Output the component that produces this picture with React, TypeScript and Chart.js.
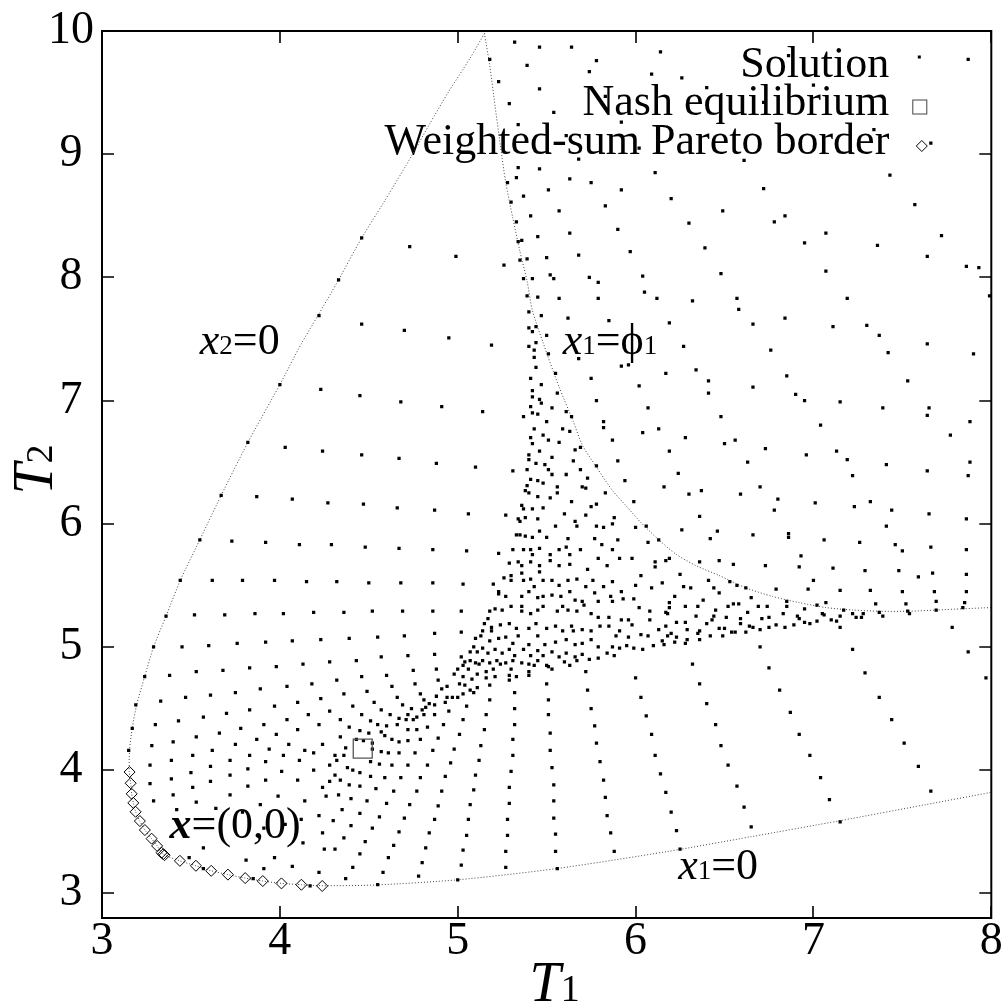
import React, { useEffect, useRef } from 'react';
import { Chart, registerables } from 'chart.js';

Chart.register(...registerables);

const SERIF = '"Liberation Serif", "Times New Roman", serif';

// ---------- axis ticks ----------
const xTickValues = [3, 4, 5, 6, 7, 8];
const yTickValues = [3, 4, 5, 6, 7, 8, 9, 10];

// ---------- legend labels ----------
const legendLabels = ['Solution', 'Nash equilibrium', 'Weighted-sum Pareto border'];

// ---------- Solution points (T1, T2) ----------
const upperPoints: number[][] = [
  [5.32,9.91],[5.46,9.87],[5.64,9.87],[5.18,9.77],[5.39,9.72],[5.78,9.76],[5.74,9.67],[6.14,9.83],[6.09,9.65],[5.23,9.59],
  [5.46,9.53],[5.83,9.47],[5.29,9.41],[5.54,9.34],[5.92,9.26],[5.34,9.24],[5.61,9.15],[6.02,9.05],[5.68,8.96],[5.34,8.89],
  [5.46,8.88],[6.11,8.85],[5.33,8.81],[5.63,8.80],[5.75,8.77],[5.28,8.77],[5.51,8.71],[5.92,8.71],[5.37,8.66],[5.30,8.61],
  [5.83,8.58],[5.57,8.54],[5.41,8.50],[5.33,8.45],[5.90,8.39],[5.63,8.36],[5.45,8.33],[5.36,8.30],[5.34,8.29],[4.46,8.32],
  [4.73,8.25],[5.97,8.21],[5.68,8.18],[4.99,8.17],[5.50,8.16],[5.39,8.15],[5.35,8.14],[5.26,8.10],[6.04,8.01],[5.74,8.00],
  [5.52,8.02],[5.54,7.99],[5.42,7.99],[5.37,7.99],[5.79,7.96],[6.05,7.88],[5.57,7.83],[5.79,7.83],[6.12,7.83],[5.45,7.84],
  [5.39,7.85],[4.46,7.62],[4.70,7.57],[4.95,7.51],[5.62,7.67],[5.85,7.65],[5.40,7.72],[5.47,7.69],[5.40,7.59],[5.44,7.60],
  [5.42,7.56],[5.50,7.53],[5.44,7.47],
];

const rightUpperPoints: number[][] = [
  [6.26,9.62],[6.40,9.54],[7.00,9.56],[7.87,9.77],[6.86,9.80],[6.72,9.42],[7.34,9.20],[6.61,8.95],[7.66,9.09],[7.43,8.83],
  [6.72,8.72],[6.20,8.64],[7.57,8.59],[6.49,8.54],[6.84,8.50],[6.78,8.45],[6.30,8.44],[7.07,8.36],[7.72,8.34],[6.39,8.24],
  [6.95,8.28],[7.36,8.26],[7.64,8.17],[7.86,8.09],[7.93,8.08],[6.48,8.03],[7.07,8.05],[7.99,7.85],[6.32,7.81],[6.57,7.83],
  [6.58,7.74],[7.19,7.83],[6.19,7.63],[6.66,7.62],[6.84,7.67],[7.11,7.60],[7.30,7.61],[7.37,7.53],[7.64,7.46],
  [6.27,7.44],[6.76,7.41],[7.42,7.39],[7.90,7.38],[6.17,7.22],[6.34,7.25],[6.41,7.16],[6.85,7.20],[7.53,7.16],[6.41,7.06],
  [6.66,7.11],[6.90,7.05],[6.95,7.00],[7.15,6.99],[7.39,6.94],[7.65,6.94],[7.64,6.88],[6.48,6.87],[7.04,6.80],[7.88,6.83],
  [7.77,6.72],[6.13,6.77],[6.28,6.70],[6.50,6.65],[6.56,6.68],[6.73,6.61],[7.13,6.59],[6.19,6.59],[6.96,6.56],[7.19,6.52],
  [6.63,6.50],[7.41,6.48],[7.88,6.50],[7.64,6.43],[7.87,6.39],[7.22,6.39],[6.24,6.41],[6.16,6.30],[6.70,6.30],[6.37,6.27],
  [6.30,6.24],[6.59,6.24],[6.80,6.20],[7.01,6.17],[7.32,6.18],[6.78,6.11],[7.23,6.14],[7.44,6.11],[7.65,6.08],[6.36,6.06],
  [7.86,6.04],[7.41,5.98],[6.26,5.95],[6.46,5.94],[6.86,5.92],[6.86,5.89],[6.42,5.88],[6.66,5.91],[7.06,5.87],[7.26,5.85],
  [7.46,5.83],[7.66,5.81],[7.50,5.78],[7.86,5.79],[6.93,5.74],
];

const phiBandPoints: number[][] = [
  [6.17,5.70],[6.19,5.72],[6.36,5.69],[6.47,5.70],[6.55,5.67],[6.73,5.66],[6.92,5.65],[7.11,5.64],[7.29,5.62],[7.48,5.62],
  [7.67,5.60],[7.86,5.59],[6.25,5.59],[7.59,5.57],[7.00,5.54],[6.41,5.54],[6.15,5.52],[6.53,5.53],[6.57,5.50],[6.62,5.48],
  [6.27,5.49],[6.31,5.48],[6.44,5.48],[6.47,5.44],[6.79,5.47],[6.97,5.47],[7.15,5.46],[7.32,5.46],[7.50,5.45],[7.68,5.45],
  [7.86,5.45],[6.22,5.41],[6.65,5.40],[6.85,5.37],[7.07,5.36],[7.35,5.35],[7.52,5.35],[7.69,5.37],[7.85,5.36],[6.19,5.36],
  [6.38,5.38],[6.19,5.32],[6.28,5.33],[6.35,5.33],[6.45,5.30],[6.52,5.33],[6.55,5.35],[6.58,5.35],[6.63,5.28],[6.69,5.33],
  [6.74,5.33],[6.85,5.33],[6.95,5.31],[7.02,5.34],[7.05,5.27],[7.17,5.30],[7.22,5.27],[7.28,5.27],[7.37,5.28],[7.39,5.25],
  [7.53,5.29],[7.54,5.27],[7.69,5.30],[7.84,5.32],[6.18,5.27],[6.34,5.25],[6.44,5.25],[6.51,5.24],[6.59,5.23],[6.71,5.23],
  [6.75,5.24],[6.83,5.27],[6.91,5.25],[6.92,5.23],[6.95,5.20],[6.98,5.19],[7.02,5.21],[7.06,5.26],[7.10,5.22],[7.13,5.21],
  [7.15,5.25],[7.15,5.16],[7.24,5.24],[7.27,5.24],[7.78,5.16],[6.23,5.20],[6.28,5.20],[6.40,5.19],[6.43,5.22],[6.59,5.19],
  [6.64,5.17],[6.66,5.16],[6.79,5.18],[6.75,5.16],[6.84,5.16],[6.89,5.18],[6.47,5.15],[6.50,5.15],[6.54,5.12],[6.56,5.12],
  [6.62,5.12],[6.70,5.14],[6.29,5.14],[6.35,5.11],[6.36,5.13],[6.20,5.11],[6.18,5.09],[6.23,5.08],[6.15,5.05],[6.22,5.04],
  [6.28,5.03],[6.29,5.06],[6.36,5.06],[6.42,5.09],[6.49,5.09],[6.16,5.02],[6.70,5.00],[7.22,4.98],[7.87,4.96],[6.32,4.86],
  [6.75,4.83],
];

const leftPoints: number[][] = [
  [4.00,7.13],[4.23,7.09],[3.82,6.66],[4.03,6.62],[4.24,6.59],[3.67,6.23],[3.87,6.22],[4.07,6.20],[4.27,6.17],[3.55,5.87],
  [3.73,5.86],[3.92,5.85],[4.11,5.83],[4.29,5.83],[3.44,5.54],[3.62,5.54],[3.79,5.54],[3.97,5.54],[4.15,5.53],[4.32,5.53],
  [3.36,5.25],[3.52,5.26],[3.69,5.26],[3.86,5.27],[4.02,5.27],[4.19,5.28],[4.36,5.28],[3.29,5.00],[3.45,5.00],[3.60,5.01],
  [3.76,5.03],[3.92,5.04],[4.07,5.05],[4.23,5.06],[4.39,5.07],[3.53,4.80],[3.68,4.81],[3.83,4.83],[3.98,4.84],[4.13,4.86],
  [4.28,4.88],[4.43,4.89],[3.38,4.77],[3.24,4.76],[4.22,7.69],[4.33,7.98],
  [4.45,7.04],[4.68,6.99],[4.91,6.95],[5.14,6.91],[4.46,6.56],[4.67,6.53],[4.88,6.49],[5.10,6.46],[5.31,6.43],[4.47,6.16],
  [4.66,6.13],[4.87,6.11],[5.06,6.08],[5.27,6.07],[4.48,5.81],[4.67,5.80],[4.86,5.79],[5.05,5.78],[5.23,5.76],[4.50,5.52],
  [4.68,5.52],[4.86,5.52],[5.03,5.51],[5.20,5.51],[4.52,5.29],[4.69,5.29],[4.86,5.29],[5.02,5.29],[5.18,5.29],[4.55,5.08],
  [4.70,5.09],[4.87,5.11],[5.02,5.12],[4.57,4.92],[4.72,4.93],[4.87,4.94],[5.02,4.92],[4.32,4.73],
];

const densePoints: number[][] = [
  [5.19,7.45],[5.40,7.44],[5.43,7.41],[5.51,7.38],[5.43,7.35],[5.68,7.34],[5.92,7.28],[5.96,7.29],[5.44,7.27],[5.55,7.22],
  [5.41,7.18],[5.75,7.18],[5.47,7.13],[6.02,7.12],[5.42,7.08],[5.56,7.06],[5.42,7.03],[5.46,7.01],[5.78,7.00],[5.41,6.95],
  [5.47,6.98],[5.53,6.94],[6.07,6.94],[5.37,6.87],[5.42,6.90],[5.45,6.89],[5.61,6.91],[5.50,6.83],[5.64,6.87],[5.82,6.83],
  [5.82,6.78],[5.43,6.77],[5.59,6.77],[6.04,6.74],[5.48,6.72],[5.63,6.75],[5.41,6.70],[5.51,6.68],[5.57,6.66],[5.87,6.68],
  [5.42,6.65],[5.46,6.59],[5.66,6.60],[5.69,6.62],[5.40,6.56],[5.40,6.52],[5.44,6.49],[5.49,6.48],[5.53,6.54],[5.65,6.51],
  [5.78,6.47],[5.90,6.51],[5.39,6.44],[5.51,6.44],[5.61,6.40],[5.69,6.44],[5.73,6.37],[5.94,6.35],[5.41,6.36],[5.45,6.35],
  [5.53,6.40],[5.48,6.33],[5.39,6.31],[5.38,6.27],[5.56,6.30],[5.70,6.30],[5.72,6.29],[5.83,6.25],[5.40,6.25],[5.45,6.22],
  [5.52,6.21],[5.56,6.25],[5.64,6.18],[5.99,6.18],[5.36,6.15],[5.37,6.12],[5.42,6.12],[5.48,6.13],[5.60,6.08],[5.75,6.14],
  [5.78,6.16],[5.72,6.07],[5.88,6.05],[5.34,6.04],[5.35,6.02],[5.38,6.05],[5.45,6.04],[5.55,5.98],[5.66,6.02],[5.67,5.98],
  [5.78,5.98],[5.82,5.97],[5.87,6.00],[6.00,5.97],[6.06,5.98],[5.33,5.91],[5.35,5.91],[5.38,5.90],[5.42,5.89],[5.46,5.94],
  [5.50,5.89],[5.62,5.88],[5.77,5.88],[5.90,5.87],[6.07,5.85],[6.13,5.87],[5.31,5.79],[5.37,5.79],[5.41,5.79],[5.46,5.80],
  [5.42,5.75],[5.52,5.75],[5.57,5.79],[5.61,5.81],[5.63,5.75],[5.69,5.79],[5.79,5.72],[5.81,5.83],[5.87,5.79],[5.91,5.72],
  [5.98,5.72],[6.11,5.69],[5.29,5.68],[5.34,5.69],[5.36,5.66],[5.41,5.69],[5.46,5.66],[5.46,5.61],[5.52,5.70],[5.57,5.66],
  [5.63,5.67],[5.73,5.63],[5.84,5.66],[6.03,5.58],[6.11,5.65],[5.26,5.56],[5.30,5.58],[5.30,5.54],[5.36,5.60],[5.37,5.54],
  [5.41,5.55],[5.43,5.49],[5.48,5.54],[5.53,5.54],[5.57,5.50],[5.62,5.54],[5.67,5.55],[5.72,5.49],[5.76,5.54],[5.82,5.49],
  [5.87,5.53],[5.92,5.45],[6.00,5.50],[6.09,5.48],[5.23,5.45],[5.23,5.43],[5.27,5.41],[5.36,5.41],[5.40,5.45],[5.45,5.40],
  [5.48,5.41],[5.53,5.42],[5.58,5.41],[5.63,5.45],[5.66,5.38],[5.70,5.37],[5.77,5.44],[5.79,5.37],[5.86,5.41],[5.87,5.37],
  [5.93,5.39],[5.99,5.39],[6.02,5.32],[6.08,5.29],[6.17,5.28],[5.21,5.31],[5.25,5.30],[5.30,5.33],[5.36,5.33],[5.36,5.29],
  [5.41,5.27],[5.45,5.30],[5.48,5.33],[5.56,5.29],[5.59,5.33],[5.62,5.30],[5.67,5.29],[5.71,5.34],[5.75,5.27],[5.79,5.24],
  [5.85,5.24],[5.92,5.22],[5.96,5.22],[5.98,5.18],[6.08,5.22],[6.13,5.14],[6.17,5.17],[5.17,5.23],[5.15,5.19],[5.19,5.16],
  [5.24,5.18],[5.29,5.19],[5.33,5.15],[5.40,5.15],[5.44,5.19],[5.50,5.15],[5.55,5.17],[5.59,5.13],[5.64,5.17],[5.65,5.13],
  [5.70,5.14],[5.75,5.13],[5.80,5.17],[5.85,5.17],[5.91,5.13],[5.89,5.09],[5.96,5.08],[6.03,5.10],[6.07,5.09],[5.14,5.13],
  [5.13,5.09],[5.19,5.13],[5.10,5.07],[5.18,5.05],[5.23,5.07],[5.27,5.08],[5.31,5.03],[5.34,5.09],[5.40,5.02],[5.45,5.09],
  [5.49,5.02],[5.55,5.04],[5.61,5.06],[5.66,5.02],[5.70,5.03],[5.75,5.06],[5.79,5.00],[5.87,5.00],[5.91,4.99],[5.95,5.01],
  [5.99,4.99],[6.04,4.98],[6.10,5.01],[5.09,5.00],[5.07,4.96],[5.11,4.96],[5.14,4.99],[5.17,4.95],[5.21,4.98],[5.25,4.95],
  [5.29,4.98],[5.32,4.93],[5.37,4.98],[5.41,4.93],[5.45,4.97],[5.48,4.93],[5.53,4.96],[5.57,4.92],[5.61,4.95],[5.66,4.92],
  [5.70,4.94],[5.74,4.90],[5.79,4.91],[5.84,4.95],[5.88,4.93],[5.04,4.88],[5.03,4.85],[5.07,4.89],[5.10,4.87],[5.14,4.89],
  [5.18,4.87],[5.22,4.89],[5.27,4.87],[5.31,4.89],[5.36,4.87],[5.40,4.86],[5.45,4.89],[5.50,4.85],[5.51,4.84],[5.53,4.82],
  [5.60,4.88],[5.63,4.85],[5.67,4.89],[4.75,4.81],[4.88,4.82],[5.00,4.82],[5.06,4.82],[5.72,4.80],
];

const lowerMidPoints: number[][] = [
  [5.12,4.86],[5.16,4.80],[5.20,4.82],[5.24,4.86],[5.30,4.82],[5.40,4.80],[5.43,4.85],[4.98,4.78],[5.03,4.76],[5.08,4.74],
  [5.11,4.78],[5.16,4.75],[5.21,4.76],[5.29,4.77],[5.29,4.73],[5.33,4.76],[5.40,4.77],[4.46,4.76],[4.60,4.77],[4.76,4.70],
  [4.89,4.73],[4.94,4.68],[5.01,4.70],[5.04,4.69],[5.18,4.69],[5.50,4.70],[6.00,4.75],[4.63,4.68],[4.91,4.66],[5.07,4.65],
  [5.09,4.63],[5.11,4.67],[5.32,4.63],[5.73,4.65],[4.36,4.62],[4.49,4.64],[4.79,4.62],[4.88,4.60],[4.94,4.59],[4.97,4.59],
  [5.00,4.59],[5.03,4.62],[4.66,4.59],[4.81,4.57],[4.84,4.54],[4.87,4.53],[4.93,4.55],[5.18,4.57],[5.51,4.57],[6.03,4.59],
  [4.53,4.55],[4.41,4.52],[4.69,4.53],[4.74,4.50],[4.80,4.49],[4.82,4.51],[4.95,4.48],[5.05,4.52],[5.32,4.50],[5.75,4.50],
  [4.28,4.48],[4.57,4.49],[4.46,4.45],[4.62,4.45],[4.72,4.45],[4.77,4.43],[4.81,4.45],[4.87,4.45],[5.16,4.45],[5.51,4.45],
  [6.06,4.44],[4.34,4.41],[4.51,4.40],[4.67,4.42],[4.71,4.41],[4.75,4.41],[4.92,4.37],[5.03,4.41],[5.32,4.37],[5.77,4.36],
  [4.39,4.35],[4.55,4.37],[4.60,4.36],[4.66,4.37],[4.72,4.33],[4.77,4.33],[4.83,4.35],[4.45,4.32],[4.50,4.30],[4.57,4.31],
  [4.59,4.28],[4.63,4.25],[4.67,4.23],[4.72,4.24],[4.79,4.25],[4.89,4.26],[5.01,4.29],[5.15,4.33],[5.31,4.25],[5.52,4.30],
  [5.78,4.22],[6.09,4.29],[4.34,4.27],[4.43,4.25],[4.47,4.24],[4.52,4.22],[4.37,4.18],[4.31,4.12],[4.36,4.12],[4.52,4.17],
  [4.57,4.15],[4.61,4.14],[4.67,4.14],[4.76,4.14],[4.86,4.16],[4.98,4.17],[5.13,4.20],[5.52,4.16],[4.28,4.04],[4.32,4.08],
  [4.38,4.02],[4.41,4.00],[4.45,3.98],[4.51,4.07],[4.56,4.05],[4.63,4.04],[4.72,4.04],[4.83,4.04],[4.96,4.06],[5.12,4.08],
  [5.31,4.12],[5.80,4.07],[6.11,4.12],[4.31,3.96],[4.34,3.92],[4.51,3.95],[4.59,3.94],[4.68,3.94],[4.79,3.94],[4.93,3.95],
  [5.10,3.96],[5.30,3.99],[5.53,4.02],[6.14,3.97],[5.82,3.92],[4.28,3.91],[4.39,3.88],[4.45,3.87],[4.54,3.85],[4.64,3.83],
  [4.77,3.83],[4.91,3.83],[5.09,3.84],[5.29,3.86],[5.54,3.88],[6.17,3.82],[4.33,3.80],[4.40,3.77],[4.49,3.75],[4.60,3.73],
  [4.73,3.72],[4.89,3.71],[5.07,3.72],[5.29,3.73],[5.54,3.75],[5.83,3.78],[4.30,3.59],[4.35,3.68],[4.45,3.65],[4.56,3.62],
  [4.70,3.61],[4.87,3.60],[5.06,3.60],[5.28,3.60],[5.54,3.61],[5.84,3.63],[4.40,3.55],[4.52,3.53],[4.67,3.50],[4.84,3.49],
  [5.05,3.47],[5.28,3.47],[5.55,3.48],[5.86,3.49],[4.36,3.45],[4.48,3.42],[4.64,3.39],[4.82,3.37],[5.03,3.35],[5.27,3.34],
  [5.55,3.34],[5.88,3.34],[4.31,3.36],[4.45,3.32],[4.61,3.29],[4.80,3.25],[5.02,3.23],[5.27,3.21],[5.56,3.20],[4.41,3.21],
  [4.58,3.17],[4.78,3.14],[5.00,3.11],[4.37,3.12],[4.55,3.07],
];

const cornerPoints: number[][] = [
  [3.19,4.53],[3.33,4.56],[3.47,4.59],[3.61,4.61],[3.75,4.63],[3.89,4.66],[4.04,4.68],[4.18,4.70],[3.17,4.34],[3.30,4.37],
  [3.43,4.40],[3.57,4.43],[3.70,4.46],[3.83,4.49],[3.97,4.52],[4.10,4.55],[4.23,4.58],[3.15,4.16],[3.28,4.20],[3.40,4.23],
  [3.53,4.27],[3.66,4.30],[3.78,4.34],[3.91,4.37],[4.04,4.41],[4.16,4.45],[3.27,4.04],[3.39,4.08],[3.51,4.12],[3.62,4.16],
  [3.75,4.21],[3.87,4.25],[3.98,4.29],[4.10,4.33],[4.22,4.37],[3.27,3.89],[3.39,3.93],[3.50,3.98],[3.61,4.03],[3.72,4.08],
  [3.83,4.12],[3.94,4.17],[4.05,4.21],[4.14,4.16],[4.24,4.21],[3.29,3.75],[3.40,3.80],[3.51,3.86],[3.61,3.91],[3.72,3.96],
  [3.82,4.01],[3.92,4.07],[4.02,4.12],[4.11,4.08],[4.19,4.14],[4.19,4.00],[3.42,3.68],[3.53,3.74],[3.64,3.69],[3.72,3.80],
  [3.82,3.87],[3.92,3.92],[4.01,3.99],[4.10,3.92],[4.24,3.86],[4.14,3.75],[4.26,3.79],[3.99,3.79],[3.89,3.72],[3.79,3.66],
  [4.22,3.63],[4.12,3.60],[4.24,3.49],[4.03,3.56],[3.91,3.53],[4.13,3.41],[4.25,3.36],[3.81,3.27],[3.91,3.20],[3.97,3.29],
  [4.07,3.22],[4.22,3.17],[3.49,3.29],[3.57,3.37],[3.57,3.20],[3.85,3.12],[4.17,3.06],
];

const lowerRightPoints: number[][] = [
  [7.29,4.79],[7.97,4.75],[6.36,4.70],[6.81,4.65],[7.37,4.59],[6.40,4.54],[6.87,4.47],[7.44,4.41],[6.45,4.37],[6.92,4.29],
  [7.51,4.22],[6.48,4.20],[6.98,4.12],[7.59,4.03],[6.52,4.04],[7.04,3.94],[7.66,3.83],[6.57,3.87],[7.09,3.76],[6.61,3.70],
  [7.15,3.58],[6.20,3.66],[6.65,3.54],[6.23,3.51],[6.25,3.36],
];

// ---------- Nash equilibrium ----------
const nashPoint: number[][] = [[4.466, 4.175]];

// ---------- Weighted-sum Pareto border ----------
const paretoPoints: number[][] = [
  [3.155,3.985],[3.161,3.894],[3.167,3.808],[3.176,3.734],[3.189,3.662],[3.213,3.587],[3.241,3.514],[3.279,3.444],
  [3.310,3.385],[3.335,3.330],[3.344,3.318],[3.352,3.310],[3.438,3.264],[3.528,3.224],[3.614,3.183],[3.708,3.152],
  [3.805,3.124],[3.904,3.100],[4.009,3.081],[4.121,3.070],[4.238,3.060],
];

// ---------- boundary curves (x2=0 / x1=0 and x1=phi1) ----------
const outerBoundary: number[][] = [
  [5.15,9.98],[5.07,9.78],[4.95,9.51],[4.84,9.24],[4.71,8.91],[4.58,8.60],[4.46,8.32],[4.33,7.98],[4.21,7.68],[4.12,7.46],
  [4.00,7.13],[3.82,6.66],[3.67,6.23],[3.55,5.87],[3.44,5.54],[3.36,5.25],[3.29,5.00],[3.24,4.76],[3.195,4.53],[3.17,4.34],
  [3.155,4.165],[3.153,3.99],[3.161,3.894],[3.167,3.808],[3.176,3.734],[3.189,3.662],[3.213,3.587],[3.241,3.514],[3.279,3.444],
  [3.31,3.385],[3.344,3.318],[3.438,3.264],[3.528,3.224],[3.614,3.183],[3.708,3.152],[3.805,3.124],[3.904,3.100],[4.009,3.081],
  [4.121,3.070],[4.238,3.062],[4.54,3.068],[5.00,3.11],[5.55,3.20],[6.18,3.34],[6.65,3.46],[7.15,3.59],[7.63,3.72],[8.0,3.82],
];

const phiBoundary: number[][] = [
  [5.15,9.98],[5.18,9.72],[5.21,9.39],[5.24,9.07],[5.27,8.77],[5.31,8.48],[5.35,8.21],[5.39,7.97],[5.42,7.73],[5.48,7.47],
  [5.57,7.11],[5.65,6.83],[5.70,6.64],[5.78,6.46],[5.87,6.27],[5.95,6.14],[6.03,6.01],[6.13,5.87],[6.23,5.75],[6.34,5.66],
  [6.47,5.58],[6.62,5.48],[6.77,5.41],[6.92,5.36],[7.07,5.32],[7.22,5.30],[7.37,5.29],[7.54,5.29],[7.69,5.30],[7.84,5.31],
  [8.0,5.32],
];

// ---------- in-plot labels: [T1, T2] anchor (left, baseline) ----------
type Seg = { t: string; style: string; size: number };
const curveLabels: { at: number[]; segs: Seg[] }[] = [
  { at: [3.55, 7.38], segs: [{ t: 'x', style: 'italic', size: 44 }, { t: '2', style: '', size: 27 }, { t: '=0', style: '', size: 44 }] },
  { at: [5.59, 7.38], segs: [{ t: 'x', style: 'italic', size: 44 }, { t: '1', style: '', size: 27 }, { t: '=\u03D5', style: '', size: 44 }, { t: '1', style: '', size: 27 }] },
  { at: [3.38, 3.45], segs: [{ t: 'x', style: 'italic bold', size: 44 }, { t: '=(0,0)', style: '', size: 44 }] },
  { at: [6.24, 3.12], segs: [{ t: 'x', style: 'italic', size: 44 }, { t: '1', style: '', size: 27 }, { t: '=0', style: '', size: 44 }] },
];

const toXY = (arr: number[][]) => arr.map(([x, y]) => ({ x, y }));

function drawSegs(ctx: CanvasRenderingContext2D, segs: Seg[], x: number, y: number, align: 'left' | 'center') {
  const widths = segs.map((s) => {
    ctx.font = `${s.style} ${s.size}px ${SERIF}`;
    return ctx.measureText(s.t).width;
  });
  const total = widths.reduce((a, b) => a + b, 0);
  let cx = align === 'left' ? x : x - total / 2;
  ctx.textAlign = 'left';
  ctx.textBaseline = 'alphabetic';
  ctx.fillStyle = '#000';
  segs.forEach((s, i) => {
    ctx.font = `${s.style} ${s.size}px ${SERIF}`;
    ctx.fillText(s.t, cx, y);
    cx += widths[i];
  });
}

const decorPlugin = {
  id: 'decor',
  beforeDatasetsDraw(chart: any) {
    const { ctx, chartArea: a, scales } = chart;
    ctx.save();
    // legend text
    ctx.font = `44px ${SERIF}`;
    ctx.fillStyle = '#000';
    ctx.textAlign = 'right';
    ctx.textBaseline = 'alphabetic';
    const baselines = [46, 84, 123];
    legendLabels.forEach((lab, i) => ctx.fillText(lab, a.right - 102, a.top + baselines[i]));
    // curve labels
    curveLabels.forEach((c) => {
      drawSegs(ctx, c.segs, scales.x.getPixelForValue(c.at[0]), scales.y.getPixelForValue(c.at[1]), 'left');
    });
    ctx.restore();
  },
  afterDraw(chart: any) {
    const { ctx, chartArea: a, scales } = chart;
    ctx.save();
    // frame
    ctx.strokeStyle = '#000';
    ctx.lineWidth = 2;
    ctx.strokeRect(a.left, a.top, a.right - a.left, a.bottom - a.top);
    // inward mirrored ticks
    ctx.lineWidth = 1.6;
    ctx.beginPath();
    xTickValues.forEach((v) => {
      const px = Math.round(scales.x.getPixelForValue(v));
      ctx.moveTo(px, a.bottom); ctx.lineTo(px, a.bottom - 12);
      ctx.moveTo(px, a.top); ctx.lineTo(px, a.top + 12);
    });
    yTickValues.forEach((v) => {
      const py = Math.round(scales.y.getPixelForValue(v));
      ctx.moveTo(a.left, py); ctx.lineTo(a.left + 12, py);
      ctx.moveTo(a.right, py); ctx.lineTo(a.right - 12, py);
    });
    ctx.stroke();
    // legend symbols
    const sx = a.right - 72;
    ctx.fillStyle = '#000';
    ctx.fillRect(sx - 1.5, a.top + 26 - 1.5, 3, 3);
    ctx.strokeStyle = '#444';
    ctx.lineWidth = 1;
    ctx.strokeRect(sx - 7 + 0.5, a.top + 76 - 7, 14, 14);
    ctx.strokeStyle = '#000';
    ctx.beginPath();
    const dy = a.top + 115;
    ctx.moveTo(sx - 3, dy); ctx.lineTo(sx - 3 + 5.5, dy - 5.5); ctx.lineTo(sx - 3 + 11, dy); ctx.lineTo(sx - 3 + 5.5, dy + 5.5); ctx.closePath();
    ctx.stroke();
    // axis titles
    drawSegs(ctx, [{ t: 'T', style: 'italic', size: 56 }, { t: '1', style: '', size: 38 }], (a.left + a.right) / 2 + 8, 1001, 'center');
    ctx.translate(52, (a.top + a.bottom) / 2 - 5);
    ctx.rotate(-Math.PI / 2);
    drawSegs(ctx, [{ t: 'T', style: 'italic', size: 56 }, { t: '2', style: '', size: 38 }], 0, 0, 'center');
    ctx.restore();
  },
};

export default function App() {
  const ref = useRef<HTMLCanvasElement>(null);
  useEffect(() => {
    const solution = [
      ...upperPoints, ...rightUpperPoints, ...phiBandPoints, ...leftPoints,
      ...densePoints, ...lowerMidPoints, ...cornerPoints, ...lowerRightPoints,
    ];
    const chart = new Chart(ref.current as HTMLCanvasElement, {
      type: 'scatter',
      data: {
        datasets: [
          {
            label: 'Nash equilibrium', data: toXY(nashPoint), pointStyle: 'rect', pointRadius: 13.4,
            borderColor: '#555', borderWidth: 1.3, backgroundColor: 'rgba(0,0,0,0)', order: 0,
          } as any,
          {
            label: 'Weighted-sum Pareto border', data: toXY(paretoPoints), pointStyle: 'rectRot', pointRadius: 5.5,
            borderColor: '#000', borderWidth: 1, backgroundColor: 'rgba(0,0,0,0)', order: 1,
          } as any,
          {
            label: 'Solution', data: toXY(solution), pointStyle: 'rect', pointRadius: 2.3,
            backgroundColor: '#000', borderWidth: 0, order: 2,
          } as any,
          {
            label: 'x2=0 / x1=0', data: toXY(outerBoundary), showLine: true, borderColor: '#444', borderWidth: 1,
            borderDash: [1, 2], pointRadius: 0, tension: 0.25, order: 3,
          } as any,
          {
            label: 'x1=phi1', data: toXY(phiBoundary), showLine: true, borderColor: '#444', borderWidth: 1,
            borderDash: [1, 2], pointRadius: 0, tension: 0.25, order: 4,
          } as any,
        ],
      },
      options: {
        responsive: false,
        animation: false,
        events: [],
        layout: { padding: { left: 0, right: 14, top: 27, bottom: 0 } },
        plugins: { legend: { display: false }, tooltip: { enabled: false }, title: { display: false } },
        scales: {
          x: {
            type: 'linear', min: 3, max: 8,
            grid: { display: false, drawTicks: false },
            border: { display: false },
            afterBuildTicks: (s: any) => { s.ticks = xTickValues.map((v) => ({ value: v })); },
            afterFit: (s: any) => { s.height = 87; },
            ticks: { color: '#000', padding: 1, font: { family: SERIF, size: 46, lineHeight: 1 }, maxRotation: 0 },
          },
          y: {
            type: 'linear', min: 2.8, max: 10,
            grid: { display: false, drawTicks: false },
            border: { display: false },
            afterBuildTicks: (s: any) => { s.ticks = yTickValues.map((v) => ({ value: v })); },
            afterFit: (s: any) => { s.width = 102; },
            ticks: { color: '#000', padding: 8, crossAlign: 'center', font: { family: SERIF, size: 46, lineHeight: 1 } },
          },
        },
      } as any,
      plugins: [decorPlugin],
    });
    return () => chart.destroy();
  }, []);
  return (
    <div style={{ position: 'fixed', left: 0, top: 0, width: 1006, height: 1005, background: '#fff' }}>
      <canvas ref={ref} width={1006} height={1005} style={{ display: 'block' }} />
    </div>
  );
}
